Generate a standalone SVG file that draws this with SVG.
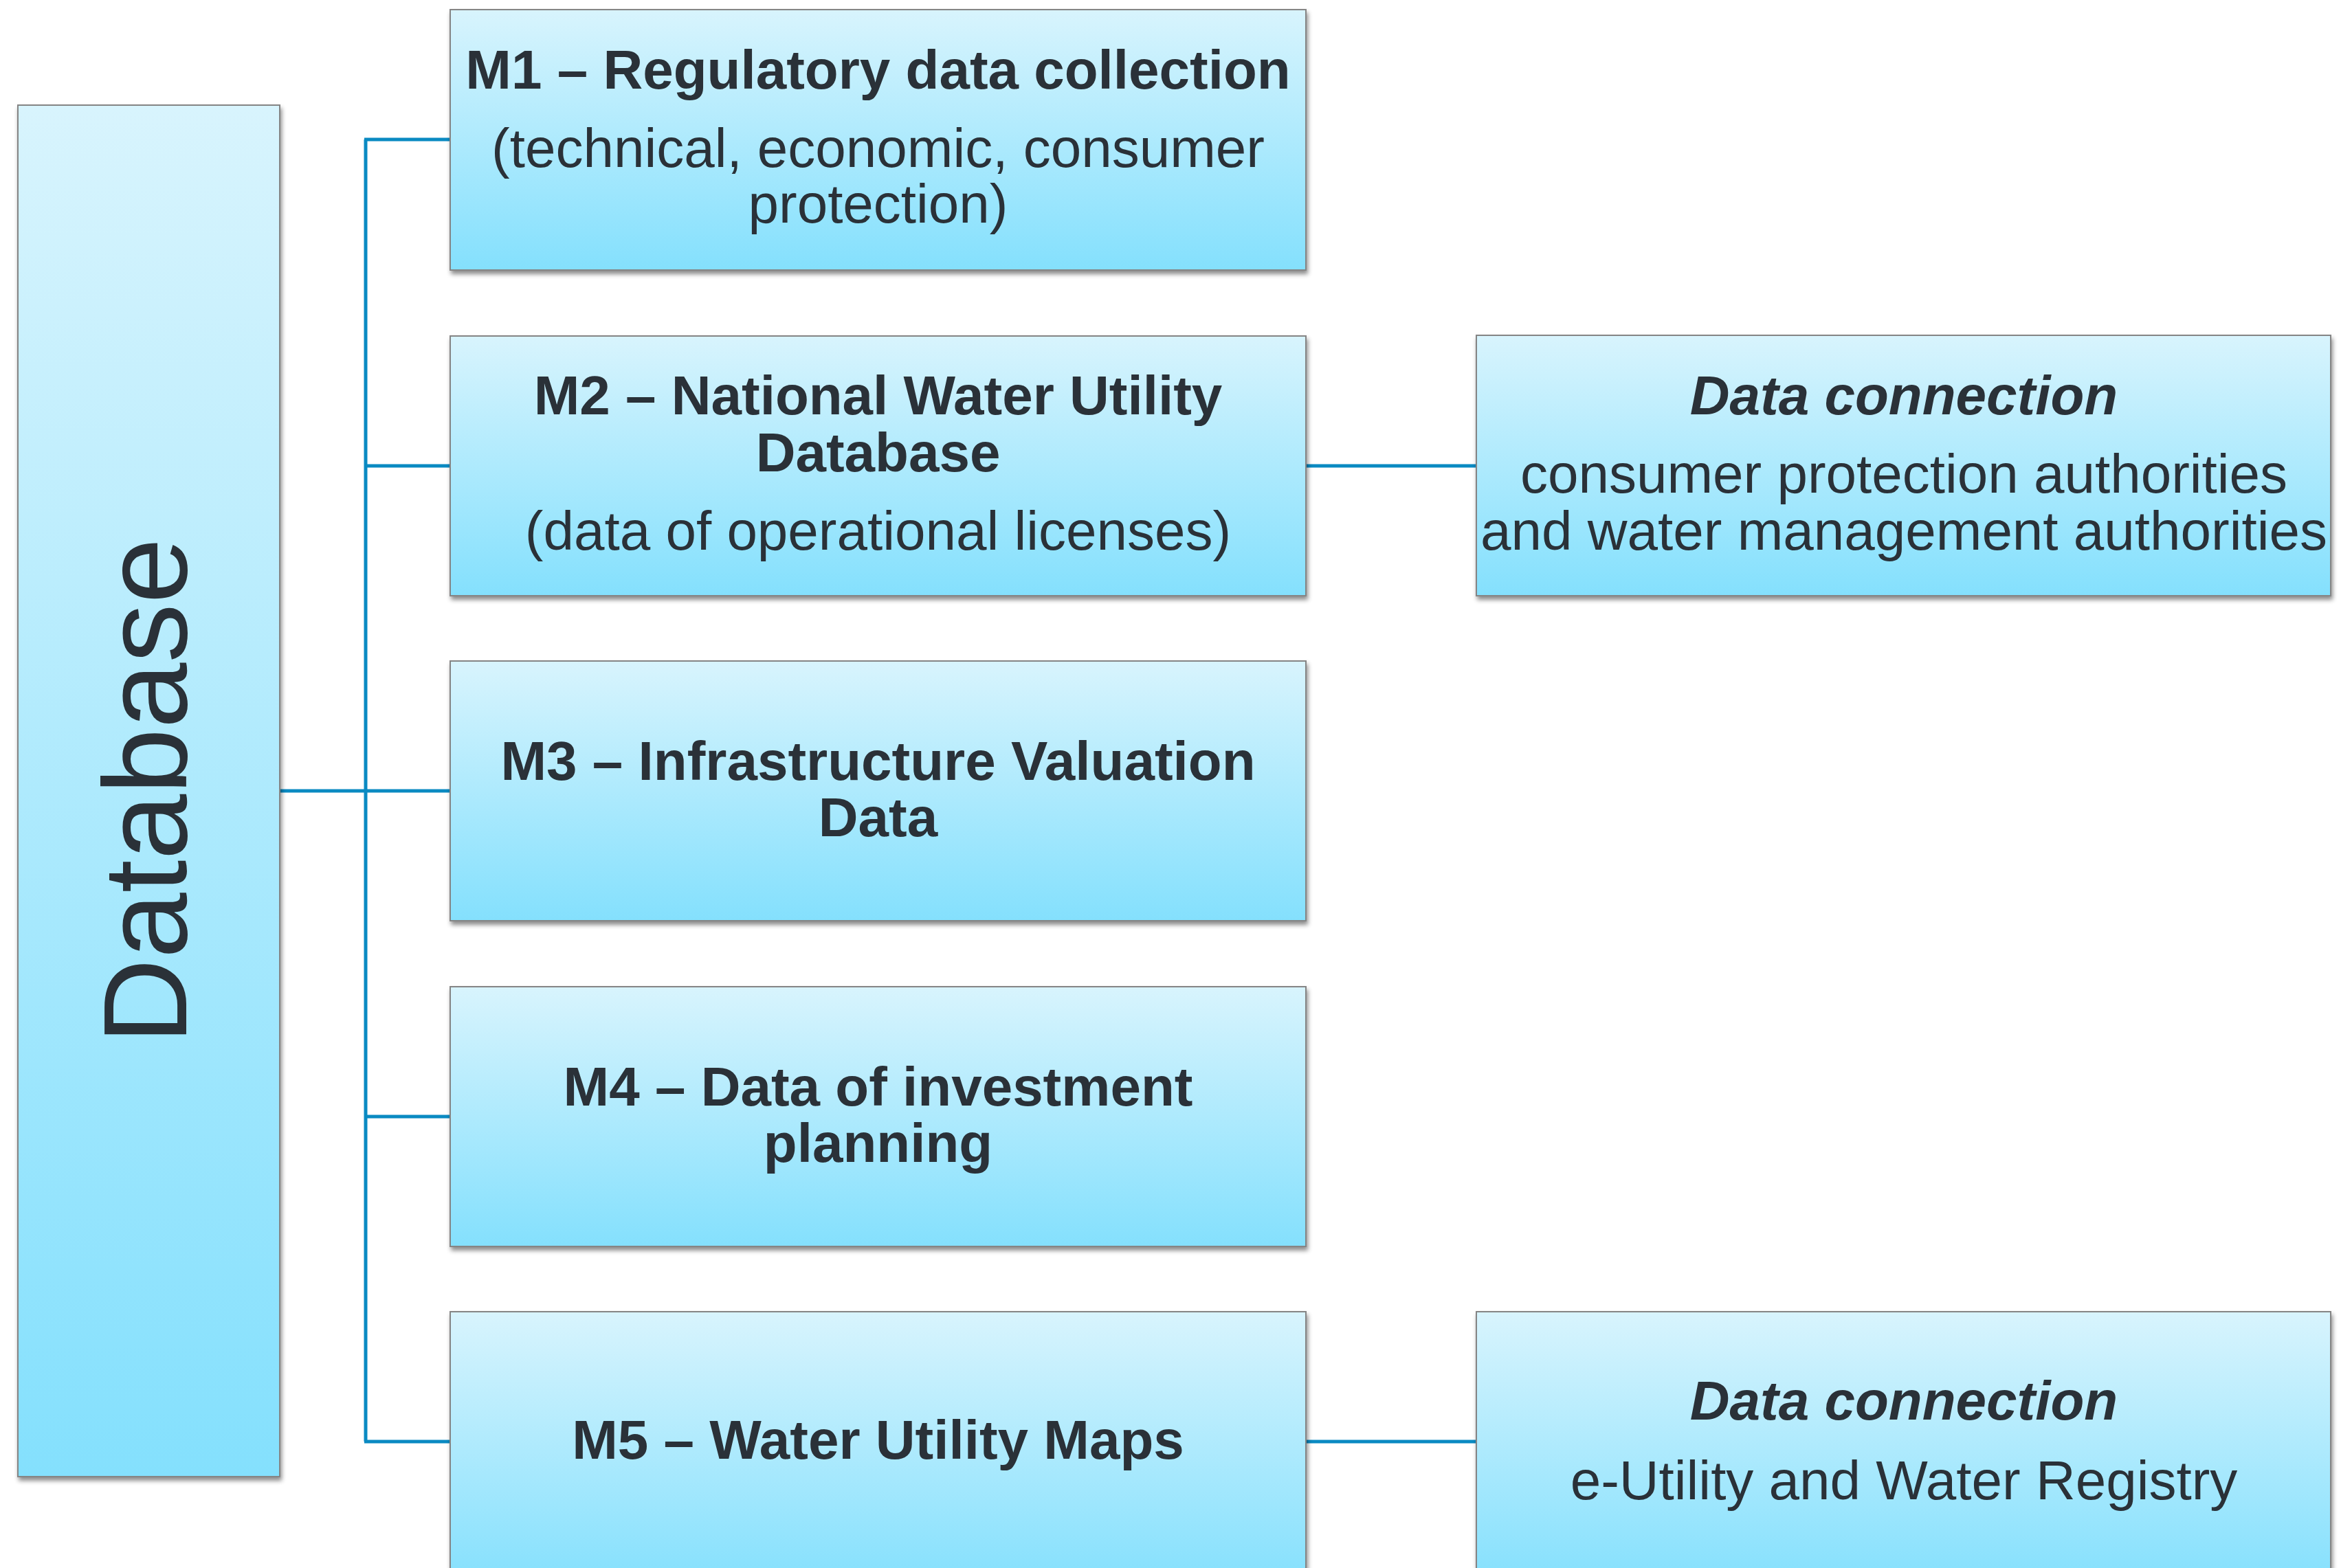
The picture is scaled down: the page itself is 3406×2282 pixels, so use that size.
<svg xmlns="http://www.w3.org/2000/svg" width="3406" height="2282" viewBox="0 0 3406 2282">
<defs>
<linearGradient id="g" x1="0" y1="0" x2="0" y2="1">
<stop offset="0" stop-color="#d8f4fd"/>
<stop offset="1" stop-color="#84e0fd"/>
</linearGradient>
<filter id="sh" x="-5%" y="-5%" width="110%" height="115%">
<feDropShadow dx="2" dy="5" stdDeviation="3" flood-color="#000" flood-opacity="0.45"/>
</filter>
</defs>
<style>
.box{fill:url(#g);stroke:#858585;stroke-width:2;filter:url(#sh)}
.t{font-family:"Liberation Sans",Arial,sans-serif;font-size:80px;fill:#2a3138;text-anchor:middle}
.b{font-weight:bold}
.bi{font-weight:bold;font-style:italic}
.con{stroke:#0a8ac2;stroke-width:5;fill:none}
.db{font-family:"Liberation Sans",Arial,sans-serif;font-size:172px;fill:#2a3138;text-anchor:middle}
</style>
<rect width="3406" height="2282" fill="#ffffff"/>
<g id="connectors">
<line class="con" x1="532" y1="203" x2="532" y2="2098"/>
<line class="con" x1="407" y1="1151" x2="655" y2="1151"/>
<line class="con" x1="530" y1="203" x2="655" y2="203"/>
<line class="con" x1="530" y1="678" x2="655" y2="678"/>
<line class="con" x1="530" y1="1625" x2="655" y2="1625"/>
<line class="con" x1="530" y1="2098" x2="655" y2="2098"/>
<line class="con" x1="1900" y1="678" x2="2148" y2="678"/>
<line class="con" x1="1900" y1="2098" x2="2148" y2="2098"/>
</g>
<g id="database">
<rect class="box" x="26" y="153" width="381" height="1996"/>
<text class="db" transform="translate(271,1151) rotate(-90)">Database</text>
</g>
<g id="m1">
<rect class="box" x="655" y="14" width="1245" height="379"/>
<text class="t b" x="1277.5" y="129">M1 – Regulatory data collection</text>
<text class="t" x="1277.5" y="243">(technical, economic, consumer</text>
<text class="t" x="1277.5" y="324">protection)</text>
</g>
<g id="m2">
<rect class="box" x="655" y="489" width="1245" height="378"/>
<text class="t b" x="1277.5" y="603">M2 – National Water Utility</text>
<text class="t b" x="1277.5" y="686">Database</text>
<text class="t" x="1277.5" y="800">(data of operational licenses)</text>
</g>
<g id="m3">
<rect class="box" x="655" y="962" width="1245" height="378"/>
<text class="t b" x="1277.5" y="1135">M3 – Infrastructure Valuation</text>
<text class="t b" x="1277.5" y="1217">Data</text>
</g>
<g id="m4">
<rect class="box" x="655" y="1436" width="1245" height="378"/>
<text class="t b" x="1277.5" y="1609">M4 – Data of investment</text>
<text class="t b" x="1277.5" y="1691">planning</text>
</g>
<g id="m5">
<rect class="box" x="655" y="1909" width="1245" height="400"/>
<text class="t b" x="1277.5" y="2123">M5 – Water Utility Maps</text>
</g>
<g id="dc1">
<rect class="box" x="2148" y="488" width="1243" height="379"/>
<text class="t bi" x="2770" y="603">Data connection</text>
<text class="t" x="2770" y="717">consumer protection authorities</text>
<text class="t" x="2770" y="800">and water management authorities</text>
</g>
<g id="dc2">
<rect class="box" x="2148" y="1909" width="1243" height="400"/>
<text class="t bi" x="2770" y="2066">Data connection</text>
<text class="t" x="2770" y="2182">e-Utility and Water Registry</text>
</g>
</svg>
